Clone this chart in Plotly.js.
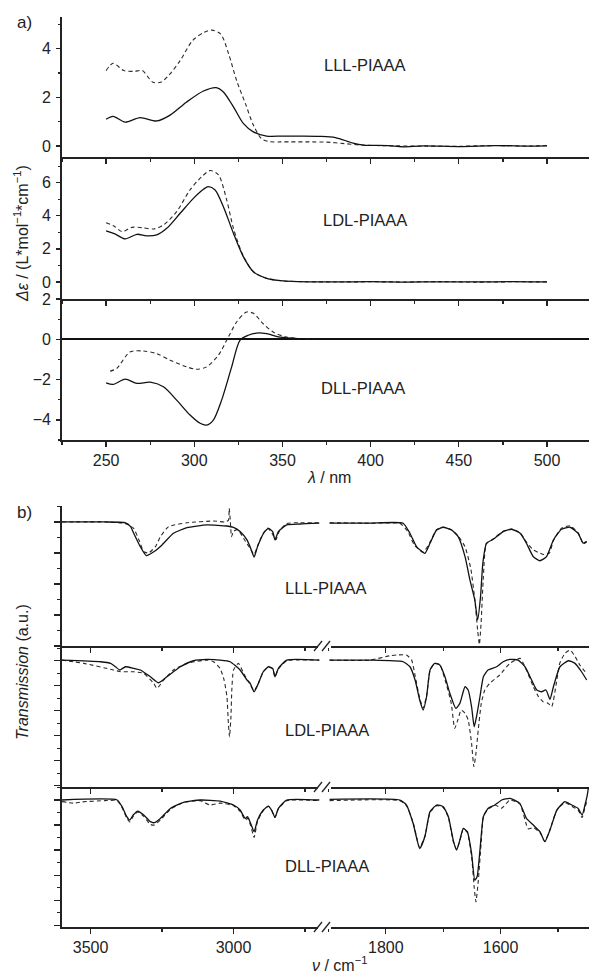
<!DOCTYPE html>
<html>
<head>
<meta charset="utf-8">
<script src="https://cdn.plot.ly/plotly-3.0.1.min.js"></script>
<style>html,body{margin:0;padding:0;background:#fff;}#chart{width:589px;height:976px;}</style>
</head>
<body>
<div id="chart"></div>
<script>
// ---------- Panel a: CD spectra (wavelength nm, delta epsilon) ----------
const cdLamLLLsolid = [250,254,260.8,269.3,278.7,286.3,295.7,305.2,312.4,316.5,322.2,327.8,333.5,341,350,360,371,380,390,396,410,418,430,450,470,490,500];
const cdLLLsolid    = [1.10,1.22,0.98,1.17,1.03,1.27,1.81,2.26,2.40,2.22,1.61,0.93,0.58,0.41,0.41,0.41,0.40,0.35,0.12,0.04,0.02,-0.03,0.01,-0.02,0.02,0.0,0.01];
const cdLamLLLdash  = [250,254,260,266,270.5,276.5,281,286,292,299,305.5,310,315,319.5,324,329,333.5,338,342.5,349,355,365,375,385,395,410,430,450,470,490,500];
const cdLLLdash     = [3.10,3.40,3.10,3.07,3.10,2.62,2.62,2.94,3.51,4.33,4.67,4.76,4.60,3.78,2.69,1.74,0.86,0.31,0.18,0.17,0.17,0.17,0.16,0.10,0.04,0.01,0.0,-0.01,0.02,0.0,0.02];

const cdLamLDLsolid = [250,255,260.8,267.5,273,278.7,284.4,292,299.5,305.2,308,311.8,316.5,322.2,327.8,333.5,341,350.5,360,380,400,420,440,460,480,500];
const cdLDLsolid    = [3.08,2.90,2.60,2.88,2.78,2.84,3.24,4.15,5.05,5.60,5.76,5.56,4.55,2.94,1.53,0.62,0.22,0.06,0.02,0.0,0.02,-0.01,0.01,0.0,0.02,0.0];
const cdLamLDLdash  = [250,255,259,264.6,270.3,277,282.5,290,297.6,304.2,309,313.7,318.4,322.2,327.8,333.5,341,350.5,360,380,400,420,440,460,480,500];
const cdLDLdash     = [3.58,3.34,3.04,3.30,3.28,3.20,3.44,4.25,5.56,6.36,6.73,6.47,4.95,3.24,1.57,0.62,0.22,0.06,0.02,0.0,0.01,0.0,0.02,-0.01,0.01,0.0];

const cdLamDLLsolid = [250,254,260.8,267.5,275,282.5,290,297.6,303.3,307,310.8,315.5,321.2,325.9,330.6,335.4,341,348.6,360,370,400,450,500];
const cdDLLsolid    = [-2.16,-2.24,-1.98,-2.19,-2.13,-2.36,-3.02,-3.76,-4.17,-4.26,-4.01,-3.02,-1.37,-0.05,0.20,0.31,0.28,0.11,0.03,0.0,0.0,0.0,0.0];
const cdLamDLLdash  = [252.3,256,263.5,271,278.7,286.3,295.7,301.4,307,313.7,319.3,324,329.6,333.5,339,344.7,352.2,360,370,400,450,500];
const cdDLLdash     = [-1.58,-1.45,-0.63,-0.58,-0.71,-1.04,-1.37,-1.49,-1.37,-0.79,0.11,0.86,1.35,1.29,0.78,0.36,0.11,0.03,0.0,0.0,0.0,0.0];

// ---------- Panel b: IR spectra (wavenumber cm-1, transmission a.u.) ----------
const irWnLLLsolidL = [3600,3450,3380,3360,3349,3326,3305,3279,3250,3210,3163,3093,3023,3000,2977,2953,2942,2928,2916,2895,2878,2863,2855,2843,2814,2768,2700];
const irLLLsolidL   = [100,100,99.5,97,92.7,84.1,78.3,80.8,85.2,92.7,96.3,98.1,97.4,96.5,93.8,88.4,84,77.4,84.1,92.7,95.9,93.8,88.4,93.8,98.1,98.7,99.2];
const irWnLLLdashL  = [3600,3450,3380,3350,3330,3314,3297,3273,3256,3227,3163,3070,3030,3018,3015,3011,3007,3000,2985,2960,2942,2928,2915,2895,2880,2863,2852,2840,2815,2768,2700];
const irLLLdashL    = [100,100,99,96,88,80.8,80,84.1,90.5,97,99.5,100.6,100,101,108.8,100,90.5,94,95,88,83,79,85,93,96,92,88.5,94,99,99.5,99.5];
const irWnLLLsolidR = [1898,1828,1770,1758,1746.5,1732,1723,1711.6,1700,1685.5,1674,1662,1653.5,1645,1640,1635,1631,1624.5,1613,1595.5,1581,1566,1555,1543,1531.5,1520,1508,1494,1479,1465,1456,1450];
const irLLLsolidR   = [99.2,99.2,99.2,92.7,84.1,79.8,86.3,94.8,96.6,94.8,90.5,77.6,62.6,49.7,36.8,51.8,73.4,86.3,88.8,93.8,95.3,92.7,86.3,77.6,75.0,77.6,88.4,95.3,96.6,92.7,86.3,87.5];
const irWnLLLdashR  = [1898,1828,1775,1762,1750,1735,1723,1711.6,1700,1685.5,1674,1662,1652,1645,1640,1637,1634,1630,1625,1613,1595.5,1581,1566,1555,1543,1535,1525,1515,1508,1494,1479,1465,1456,1450];
const irLLLdashR    = [99.5,99.2,99,94,85,80.5,87,95,96.6,95,91,84,70,50,30,21,35,65,86,89,94,95.5,93,87,82,80.5,79,80,88,96,97.5,93,86,87];

const irWnLDLsolidL = [3600,3465,3430,3413,3398,3378,3349,3326,3291,3262,3233,3186,3140,3093,3047,3012,2977,2953,2942,2928,2913,2896,2878,2863,2855,2843,2814,2700];
const irLDLsolidL   = [100.5,99.2,97.9,95.2,92.6,95.2,93.9,92.6,87.2,82.4,87.2,95.2,100,101.1,100.5,99.2,92.6,84.6,82.1,75.2,81.9,91.2,95.2,93.9,87.2,93.9,100.5,100.5];
const irWnLDLdashL  = [3600,3523,3420,3395,3349,3314,3279,3268,3244,3210,3163,3093,3070,3047,3033,3023,3018,3014,3009,3006,3000,2983,2960,2942,2928,2913,2896,2878,2863,2855,2843,2814,2700];
const irLDLdashL    = [100.5,97.9,92.6,91.2,91.2,89.9,81.9,77.9,84.6,92.6,97.9,100.5,99.2,93.9,84.6,71.2,49.9,39.2,55.2,76.6,92.6,97.9,88,81,76,82,91,95,93.5,87,93.5,100,100.5];
const irWnLDLsolidR = [1898,1828,1770,1758,1749,1741,1735,1729,1723,1715,1706,1697,1688.4,1678,1671,1662,1656.5,1650.6,1646,1642,1636,1630,1622,1607,1595.5,1584,1569.5,1557.6,1546,1537,1528.5,1521,1514,1508,1496.6,1482,1470.4,1459,1450];
const irLDLsolidR   = [100.5,100.5,99.2,95.2,84.6,68.6,60.6,71.2,92.6,97.9,96.6,87.2,73.9,61.9,65.9,79.2,76.6,63.2,47.2,55.2,71.2,87.2,92.6,95.2,99.2,101.1,100.5,95.2,84.6,76.6,75.2,76.6,69.1,79.2,95.2,100,97.9,91.2,84.6];
const irWnLDLdashR  = [1898,1828,1793,1781,1764,1755,1749,1741,1735,1729,1723,1715,1706,1695,1686,1680,1674.6,1668.8,1662,1656.5,1650.6,1646.6,1643,1639,1633.7,1627.6,1619,1601.7,1584,1566,1555,1543,1534,1526,1517,1511,1503,1497,1488,1479,1470,1462,1450];
const irLDLdashR    = [100.5,100.5,104,104.6,104.6,100.5,88,70,62,72,92,98,97,81.9,65.9,45.9,52.6,60.6,58,52.6,33.9,15.2,25.9,44.6,65.9,76.6,81.9,88.6,97.9,101.9,92.6,79.2,71.2,67.2,65.9,63.2,81.9,97.9,105.9,108.6,103.2,96.6,89.9];

const irWnDLLsolidL = [3600,3407,3390,3374.5,3363,3351,3335,3314,3291,3277,3256,3221,3175,3116,3047,3000,2977,2959,2951,2940,2928,2916,2896,2878,2867,2855,2843,2814,2700];
const irDLLsolidL   = [100,100,94.7,87.2,84,88,91.2,88,82.7,81.9,85.3,93.3,98.1,100,99.2,96,92,85.3,86.7,81.3,74.7,84,92,95.2,92,86.1,93.3,100,100];
const irWnDLLdashL  = [3600,3560,3530,3450,3407,3390,3374.5,3363,3351,3335,3314,3291,3277,3256,3221,3175,3116,3082,3047,3000,2977,2959,2951,2940,2928,2916,2896,2878,2867,2855,2843,2814,2700];
const irDLLdashL    = [98.7,97.5,98.5,99.5,99.5,94,86,82.5,87,90.5,87,80.5,80,84,92.5,98,99.5,96,97.5,95.5,91,84,85.5,79.5,70.1,83,91.5,95,92,86,93,99.5,99.5];
const irWnDLLsolidR = [1898,1775.6,1764,1752.4,1741,1732,1723,1711.6,1700,1691,1682.6,1676.7,1671,1665,1658,1650.6,1645,1641,1636,1630,1622,1610,1598,1584,1566.6,1555,1543,1531.5,1523,1514,1502,1488,1476,1465,1458,1453,1449,1447];
const irDLLsolidR   = [100.5,100,96,81.3,61.3,70.7,90.7,96,94.7,86.7,68,60,68,77.3,74.7,57.3,36,38.7,60,86.7,93.3,96,100,101.3,97.3,85.3,80,74.7,66.7,76,92,98.7,96,93.3,88,96,104,110];
const irWnDLLdashR  = [1898,1775.6,1764,1752.4,1741,1732,1723,1711.6,1700,1691,1682.6,1676.7,1671,1665,1658,1650.6,1646,1643,1639,1634,1630,1622,1610,1598,1584,1566.6,1552,1543,1531.5,1523,1514,1502,1488,1476,1465,1458,1453,1449];
const irDLLdashR    = [99.5,99.5,95.5,82,62,71,90,95.5,94,86,67,60.5,67.5,77,74,55,30,18.7,35,65,87,92.5,96,93.5,100,97,77,78,74,67,76.5,92,98,95,92,86,94,100];

// ---------- layout helpers ----------
const W = 589, H = 976;
const fx = v => v / W;
const fy = v => 1 - v / H;
const INK = '#222';
const FONT = 'Liberation Sans, Arial, Helvetica, sans-serif';

function tr(x, y, xa, ya, dashed, smooth) {
  return {
    x: x, y: y, xaxis: xa, yaxis: ya, type: 'scatter', mode: 'lines',
    line: {color: dashed ? '#2a2a2a' : '#111', width: dashed ? 1.1 : 1.3,
           dash: dashed ? '4px,3px' : 'solid', shape: 'spline', smoothing: smooth},
    hoverinfo: 'skip'
  };
}
const traces = [
  tr(cdLamLLLdash, cdLLLdash, 'x', 'y', true, 0.8),
  tr(cdLamLLLsolid, cdLLLsolid, 'x', 'y', false, 0.8),
  tr(cdLamLDLdash, cdLDLdash, 'x2', 'y2', true, 0.8),
  tr(cdLamLDLsolid, cdLDLsolid, 'x2', 'y2', false, 0.8),
  tr(cdLamDLLdash, cdDLLdash, 'x3', 'y3', true, 0.8),
  tr(cdLamDLLsolid, cdDLLsolid, 'x3', 'y3', false, 0.8),

  tr(irWnLLLdashL, irLLLdashL, 'x4', 'y4', true, 0.5),
  tr(irWnLLLsolidL, irLLLsolidL, 'x4', 'y4', false, 0.5),
  tr(irWnLLLdashR, irLLLdashR, 'x5', 'y4', true, 0.5),
  tr(irWnLLLsolidR, irLLLsolidR, 'x5', 'y4', false, 0.5),
  tr(irWnLDLdashL, irLDLdashL, 'x6', 'y5', true, 0.5),
  tr(irWnLDLsolidL, irLDLsolidL, 'x6', 'y5', false, 0.5),
  tr(irWnLDLdashR, irLDLdashR, 'x7', 'y5', true, 0.5),
  tr(irWnLDLsolidR, irLDLsolidR, 'x7', 'y5', false, 0.5),
  tr(irWnDLLdashL, irDLLdashL, 'x8', 'y6', true, 0.5),
  tr(irWnDLLsolidL, irDLLsolidL, 'x8', 'y6', false, 0.5),
  tr(irWnDLLdashR, irDLLdashR, 'x9', 'y6', true, 0.5),
  tr(irWnDLLsolidR, irDLLsolidR, 'x9', 'y6', false, 0.5)
];

function xAx(domain, range, anchor, dtick, tick0, minorDtick, labels) {
  return {
    domain: domain, range: range, anchor: anchor,
    showline: true, linecolor: INK, linewidth: 1.8, mirror: false,
    ticks: 'outside', ticklen: 5, tickwidth: 1.3, tickcolor: INK,
    dtick: dtick, tick0: tick0,
    minor: {dtick: minorDtick, tick0: tick0, ticks: 'outside', ticklen: 3, tickwidth: 1.2, tickcolor: INK, showgrid: false},
    showticklabels: labels, tickfont: {family: FONT, size: 16, color: INK},
    showgrid: false, zeroline: false, fixedrange: true
  };
}
function yAx(domain, range, anchor, dtick, tick0, minorDtick, labels, zl) {
  return {
    domain: domain, range: range, anchor: anchor,
    showline: true, linecolor: INK, linewidth: 1.8,
    ticks: 'outside', ticklen: labels ? 4 : 6, tickwidth: 1.3, tickcolor: INK,
    dtick: dtick, tick0: tick0,
    minor: {dtick: minorDtick, tick0: tick0, ticks: 'outside', ticklen: labels ? 2.5 : 3, tickwidth: 1.2, tickcolor: INK, showgrid: false},
    showticklabels: labels, tickfont: {family: FONT, size: 16, color: INK},
    ticklabelstandoff: 2,
    showgrid: false, zeroline: !!zl, zerolinecolor: '#111', zerolinewidth: 1.6, fixedrange: true
  };
}

const aDom = [fx(62), 1];
const bDomL = [fx(62), fx(325)];
const bDomR = [fx(325), 1];
const aRange = [225, 523.8];
const bRangeL = [3600, 2680];
const bRangeR = [1906, 1446];

const layout = {
  width: W, height: H,
  margin: {l: 0, r: 0, t: 0, b: 0},
  paper_bgcolor: '#fff', plot_bgcolor: 'rgba(0,0,0,0)',
  showlegend: false,
  font: {family: FONT, color: INK},

  xaxis:  xAx(aDom, aRange, 'y', 50, 250, 25, false),
  xaxis2: xAx(aDom, aRange, 'y2', 50, 250, 25, false),
  xaxis3: xAx(aDom, aRange, 'y3', 50, 250, 25, true),
  yaxis:  yAx([fy(157), fy(17)], [-0.45, 5.3], 'x', 2, 0, 1, true, false),
  yaxis2: yAx([fy(299), fy(157)], [-1.03, 7.55], 'x2', 2, 0, 1, true, false),
  yaxis3: yAx([fy(440), fy(299)], [-5, 2], 'x3', 2, 0, 1, true, true),

  xaxis4: xAx(bDomL, bRangeL, 'y4', 500, 3000, 250, false),
  xaxis5: xAx(bDomR, bRangeR, 'y4', 200, 1600, 100, false),
  xaxis6: xAx(bDomL, bRangeL, 'y5', 500, 3000, 250, false),
  xaxis7: xAx(bDomR, bRangeR, 'y5', 200, 1600, 100, false),
  xaxis8: xAx(bDomL, bRangeL, 'y6', 500, 3000, 250, true),
  xaxis9: xAx(bDomR, bRangeR, 'y6', 200, 1600, 100, true),
  yaxis4: yAx([fy(646), fy(506)], [20, 110.3], 'x4', 20, 100, 10, false, false),
  yaxis5: yAx([fy(787), fy(646)], [-1, 111.8], 'x6', 20, 100, 10, false, false),
  yaxis6: yAx([fy(927), fy(787)], [-1.4, 110.4], 'x8', 20, 100, 10, false, false),

  annotations: [],
  shapes: []
};

function ann(text, x, y, size, angle) {
  layout.annotations.push({
    text: text, xref: 'paper', yref: 'paper', x: fx(x), y: fy(y),
    xanchor: 'center', yanchor: 'middle', showarrow: false,
    textangle: angle || 0, font: {family: FONT, size: size, color: INK}
  });
}
ann('a)', 24, 22, 17);
ann('b)', 24, 512, 17);
ann('<i>Δε</i> / (L*mol<sup>−1</sup>*cm<sup>−1</sup>)', 21, 234, 16, -90);
ann('<i>Transmission</i> (a.u.)', 22, 672, 16, -90);
ann('<i>λ</i> / nm', 329, 477, 16);
ann('<i>ν</i> / cm<sup>−1</sup>', 339, 964, 16);
ann('LLL-PIAAA', 365, 65, 16.5);
ann('LDL-PIAAA', 365, 220, 16.5);
ann('DLL-PIAAA', 363, 388, 16.5);
ann('LLL-PIAAA', 326, 588, 16.5);
ann('LDL-PIAAA', 327, 730, 16.5);
ann('DLL-PIAAA', 327, 866, 16.5);

// axis-break marks on the broken wavenumber axis
[646, 787, 927].forEach(p => {
  layout.shapes.push({type: 'rect', xref: 'paper', yref: 'paper',
    x0: fx(318), x1: fx(331), y0: fy(p + 2), y1: fy(p - 2),
    fillcolor: '#fff', line: {width: 0}, layer: 'above'});
  layout.shapes.push({type: 'line', xref: 'paper', yref: 'paper',
    x0: fx(314), y0: fy(p + 5), x1: fx(322), y1: fy(p - 5),
    line: {color: INK, width: 1.3}, layer: 'above'});
  layout.shapes.push({type: 'line', xref: 'paper', yref: 'paper',
    x0: fx(322), y0: fy(p + 5), x1: fx(330), y1: fy(p - 5),
    line: {color: INK, width: 1.3}, layer: 'above'});
});

Plotly.newPlot('chart', traces, layout, {staticPlot: true, displayModeBar: false});
</script>
</body>
</html>
